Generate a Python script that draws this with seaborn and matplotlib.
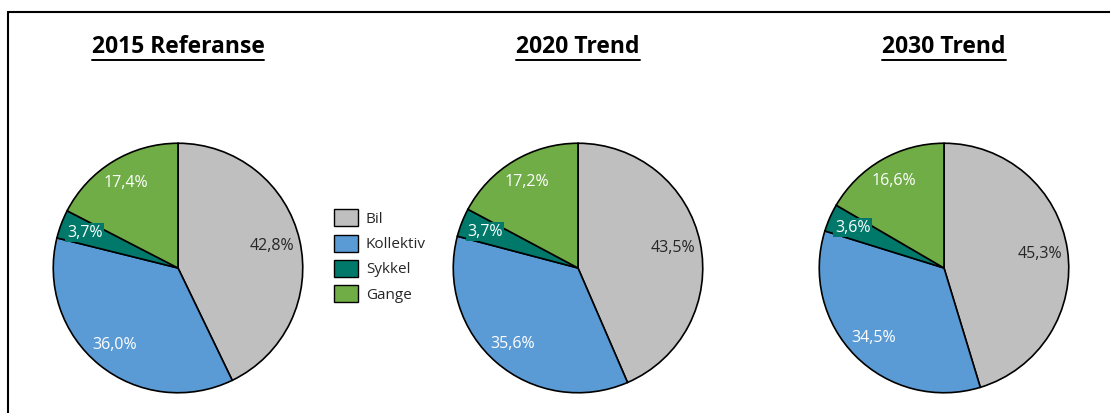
import matplotlib
matplotlib.use("Agg")
import matplotlib.pyplot as plt
import seaborn as sns
from matplotlib.lines import Line2D
from matplotlib.patches import Patch

categories = ["Bil", "Kollektiv", "Sykkel", "Gange"]
titles = ["2015 Referanse", "2020 Trend", "2030 Trend"]
values_2015 = [42.8, 36.0, 3.7, 17.4]
values_2020 = [43.5, 35.6, 3.7, 17.2]
values_2030 = [45.3, 34.5, 3.6, 16.6]
series = [values_2015, values_2020, values_2030]

colors = ["#BFBFBF", "#5B9BD5", "#00796B", "#70AD47"]
text_colors = ["#262626", "white", "white", "white"]

sns.set_theme(style="white")
plt.rcParams["font.family"] = ["Open Sans", "DejaVu Sans"]
palette = sns.color_palette(colors)

W, H = 1110, 413
fig = plt.figure(figsize=(W / 100, H / 100), dpi=100)
fig.patch.set_facecolor("white")

centers_px = [178, 578, 944]
cy_px = 268
r_px = 126

for i, (vals, title) in enumerate(zip(series, titles)):
    cx = centers_px[i]
    ax = fig.add_axes([(cx - r_px) / W, (H - cy_px - r_px) / H, 2 * r_px / W, 2 * r_px / H])
    labels = [f"{v:.1f}".replace(".", ",") + "%" for v in vals]
    wedges, texts = ax.pie(vals, colors=palette, startangle=90, counterclock=False,
                           labels=labels, labeldistance=0.8,
                           wedgeprops=dict(edgecolor="black", linewidth=1.2))
    for j, t in enumerate(texts):
        t.set_color(text_colors[j])
        t.set_fontsize(11.5)
        t.set_ha("center")
        t.set_va("center")
        if j == 0:
            x, y = t.get_position()
            t.set_position((x * 0.97, y * 0.97))
        if categories[j] == "Sykkel":
            t.set_bbox(dict(facecolor=colors[2], edgecolor="none", pad=1.0))
    ax.set_xlim(-1.01, 1.01)
    ax.set_ylim(-1.01, 1.01)
    ax.set_aspect("equal")
    ax.axis("off")

    fig.text(cx / W, (H - 47) / H, title, ha="center", va="center",
             fontsize=16.5, fontweight="bold", color="black")

fig.canvas.draw()
renderer = fig.canvas.get_renderer()
for t in list(fig.texts):
    bb = t.get_window_extent(renderer)
    y = (bb.y0 - 1) / H
    fig.add_artist(Line2D([bb.x0 / W, bb.x1 / W], [y, y], transform=fig.transFigure,
                          color="black", linewidth=1.4))

handles = [Patch(facecolor=c, edgecolor="black", linewidth=1.0) for c in colors]
fig.legend(handles, categories, loc="center left",
           bbox_to_anchor=(320 / W, (H - 256) / H), frameon=False,
           fontsize=11, handlelength=1.6, handleheight=1.35, labelspacing=0.5,
           handletextpad=0.5)

# chart border (top and left visible)
fig.add_artist(Line2D([8 / W, 1.0], [(H - 12) / H, (H - 12) / H], transform=fig.transFigure,
                      color="black", linewidth=1.5))
fig.add_artist(Line2D([8 / W, 8 / W], [0, (H - 12) / H], transform=fig.transFigure,
                      color="black", linewidth=1.5))

fig.savefig("out.png", dpi=100, facecolor="white")
